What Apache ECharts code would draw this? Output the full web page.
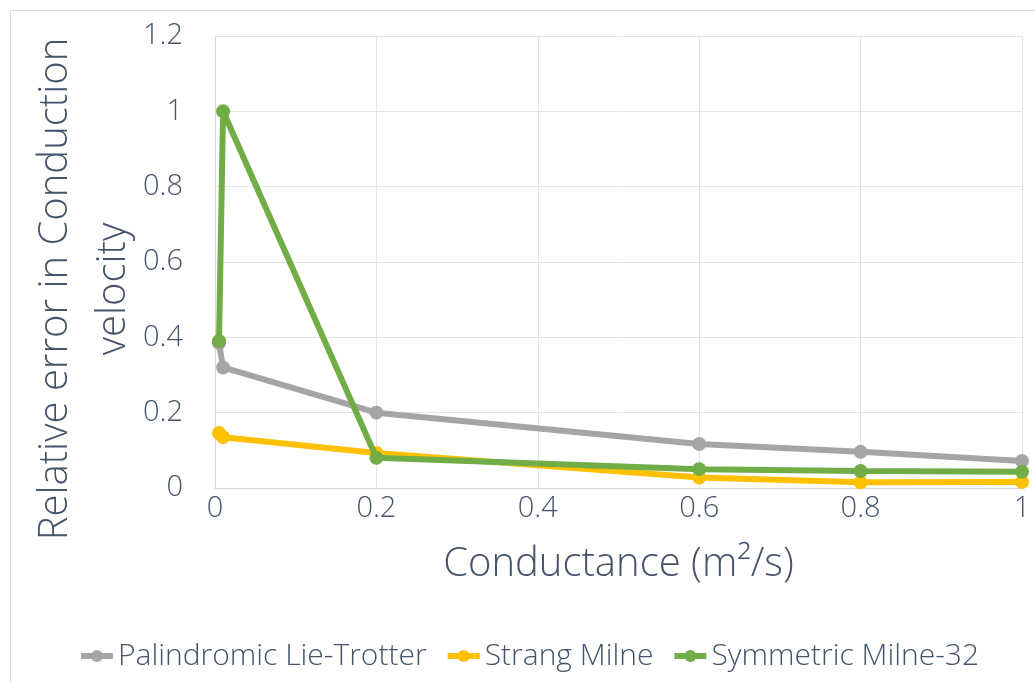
<!DOCTYPE html>
<html>
<head>
<meta charset="utf-8">
<script src="https://cdn.jsdelivr.net/npm/echarts@6/dist/echarts.min.js"></script>
<style>
html,body{margin:0;padding:0;background:#fff;}
#chart{width:1035px;height:682px;}
</style>
</head>
<body>
<div id="chart"></div>
<script>
const conductance = [0.005, 0.01, 0.2, 0.6, 0.8, 1];
const palindromicLieTrotter = [0.385, 0.32, 0.2, 0.117, 0.096, 0.072];
const strangMilne = [0.146, 0.135, 0.093, 0.028, 0.015, 0.016];
const symmetricMilne32 = [0.39, 1.0, 0.08, 0.05, 0.045, 0.043];
const seriesNames = ['Palindromic Lie-Trotter', 'Strang Milne', 'Symmetric Milne-32'];
const seriesColors = ['#A5A5A5', '#FFC000', '#70AD47'];
const xAxisTitle = 'Conductance (m²/s)';
const yAxisTitle = 'Relative error in Conduction\nvelocity';

const FONT = '"Open Sans", "Noto Sans", sans-serif';
const TXT = '#44546A';

function pairs(ys) { return conductance.map((x, i) => [x, ys[i]]); }
const allData = [palindromicLieTrotter, strangMilne, symmetricMilne32];

const chart = echarts.init(document.getElementById('chart'));
chart.setOption({
  animation: false,
  backgroundColor: '#fff',
  textStyle: { fontFamily: FONT, color: TXT },
  graphic: [{
    type: 'rect', left: 8, top: 8, silent: true, z: -10,
    shape: { width: 1040, height: 690 },
    style: { fill: 'none', stroke: '#D9D9D9', lineWidth: 1 }
  }],
  grid: { left: 215, right: 13, top: 36, bottom: 194, containLabel: false, outerBoundsMode: 'none' },
  xAxis: {
    type: 'value', min: 0, max: 1, interval: 0.2,
    name: xAxisTitle, nameLocation: 'middle', nameGap: 57, nameMoveOverlap: false,
    nameTextStyle: { fontSize: 40, color: TXT, fontFamily: FONT, fontWeight: 300 },
    axisLine: { show: true, lineStyle: { color: '#D0D4DA', width: 1 } },
    axisTick: { show: false },
    axisLabel: { fontSize: 29, color: TXT, margin: 6, fontFamily: FONT, fontWeight: 300 },
    splitLine: { show: true, lineStyle: { color: '#E4E4E4', width: 1 } }
  },
  yAxis: {
    type: 'value', min: 0, max: 1.2, interval: 0.2,
    name: yAxisTitle, nameLocation: 'middle', nameGap: 72, nameMoveOverlap: false,
    nameTextStyle: { fontSize: 40, color: TXT, fontFamily: FONT, fontWeight: 300, lineHeight: 58, padding: [0, 54, 0, 0] },
    axisLine: { show: true, lineStyle: { color: '#D0D4DA', width: 1 } },
    axisTick: { show: false },
    axisLabel: { fontSize: 29, color: TXT, margin: 32, fontFamily: FONT, fontWeight: 300 },
    splitLine: { show: true, lineStyle: { color: '#E4E4E4', width: 1 } }
  },
  legend: {
    bottom: 6, left: 73,
    itemWidth: 32, itemHeight: 15, itemGap: 18,
    lineStyle: { width: 6 },
    textStyle: { fontSize: 30, color: TXT, fontFamily: FONT, fontWeight: 300 },
    data: seriesNames
  },
  series: seriesNames.map((n, i) => ({
    name: n, type: 'line',
    data: pairs(allData[i]),
    color: seriesColors[i],
    symbol: 'circle', symbolSize: 14,
    lineStyle: { width: 6, color: seriesColors[i] },
    itemStyle: { color: seriesColors[i] },
    z: 2 + i
  }))
});
</script>
</body>
</html>
